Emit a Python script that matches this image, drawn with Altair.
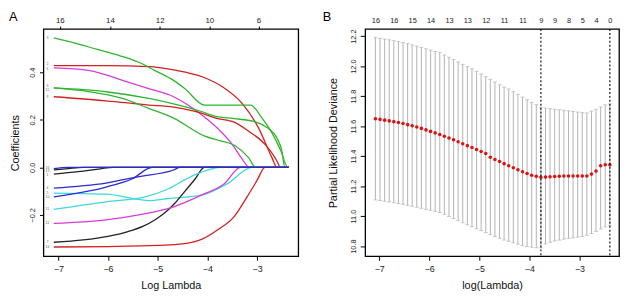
import altair as alt
import pandas as pd

# ---------------- Panel A: coefficient paths ----------------
VAR_IDS = [str(i) for i in range(1, 17)]
VAR_COLORS = ["#222222", "#d42020", "#2fb52f", "#2a2ad0", "#3cd8e0", "#d83cd8",
              "#222222", "#d42020", "#2fb52f", "#2a2ad0", "#3cd8e0", "#d83cd8",
              "#222222", "#d42020", "#2fb52f", "#2a2ad0"]
P1 = [(-7.09, -0.028), (-6.6, -0.018), (-6.15, -0.006), (-5.9, 0.0), (-2.36, 0.0)]
P2 = [(-7.09, 0.428), (-6.0, 0.428), (-5.18, 0.424), (-4.68, 0.410), (-4.09, 0.380), (-3.69, 0.338),
      (-3.30, 0.269), (-2.97, 0.166), (-2.70, 0.041), (-2.60, 0.0), (-2.36, 0.0)]
P3 = [(-7.09, 0.545), (-6.70, 0.525), (-6.23, 0.497), (-5.77, 0.470), (-5.38, 0.442), (-5.05, 0.407),
      (-4.68, 0.366), (-4.45, 0.331), (-4.06, 0.262), (-3.60, 0.262), (-3.13, 0.262), (-2.90, 0.207),
      (-2.70, 0.145), (-2.52, 0.069), (-2.38, 0.0), (-2.36, 0.0)]
P4 = [(-7.09, -0.087), (-6.04, -0.066), (-5.38, -0.039), (-4.68, -0.011), (-4.55, 0.0), (-2.36, 0.0)]
P5 = [(-7.09, -0.108), (-6.04, -0.113), (-5.38, -0.135), (-5.18, -0.140), (-4.78, -0.131),
      (-4.12, -0.117), (-3.60, -0.069), (-3.10, 0.0), (-2.36, 0.0)]
P6 = [(-7.09, 0.418), (-6.37, 0.407), (-5.71, 0.366), (-5.18, 0.331), (-4.68, 0.297), (-4.39, 0.262),
      (-3.99, 0.200), (-3.75, 0.155), (-3.50, 0.097), (-3.30, 0.035), (-3.15, 0.0), (-2.36, 0.0)]
P7 = [(-7.09, -0.315), (-6.5, -0.305), (-6.0, -0.290), (-5.6, -0.270), (-5.3, -0.248),
      (-5.05, -0.220), (-4.85, -0.190), (-4.65, -0.150), (-4.45, -0.100), (-4.25, -0.050),
      (-4.06, 0.0), (-2.36, 0.0)]
P8 = [(-7.09, 0.297), (-6.04, 0.280), (-5.18, 0.262), (-4.68, 0.253), (-4.12, 0.228), (-3.83, 0.207),
      (-3.46, 0.190), (-3.17, 0.152), (-2.84, 0.097), (-2.57, 0.014), (-2.54, 0.0), (-2.36, 0.0)]
P9 = [(-7.09, 0.334), (-6.04, 0.318), (-5.18, 0.290), (-4.68, 0.267), (-4.12, 0.235), (-3.83, 0.214),
      (-3.46, 0.205), (-3.07, 0.193), (-2.84, 0.173), (-2.60, 0.124), (-2.50, 0.069), (-2.44, 0.0),
      (-2.36, 0.0)]
P10 = [(-7.09, -0.124), (-6.04, -0.083), (-5.51, -0.048), (-5.11, 0.0), (-2.36, 0.0)]
P11 = [(-7.09, -0.177), (-6.04, -0.145), (-5.25, -0.124), (-4.78, -0.090), (-4.39, -0.045),
       (-4.0, -0.012), (-3.75, 0.0), (-2.36, 0.0)]
P12 = [(-7.09, -0.236), (-6.04, -0.221), (-5.38, -0.200), (-4.68, -0.166), (-4.12, -0.117),
       (-3.66, -0.069), (-3.33, 0.0), (-2.36, 0.0)]
P13 = [(-7.09, -0.011), (-6.8, -0.005), (-6.5, 0.0), (-2.36, 0.0)]
P14 = [(-7.09, -0.335), (-6.0, -0.333), (-5.0, -0.328), (-4.5, -0.322), (-4.12, -0.303),
       (-3.79, -0.262), (-3.46, -0.207), (-3.20, -0.124), (-3.0, -0.055), (-2.84, 0.0), (-2.36, 0.0)]
P15 = [(-7.09, 0.334), (-6.37, 0.318), (-5.71, 0.290), (-5.18, 0.248), (-4.68, 0.207), (-4.05, 0.131),
       (-3.75, 0.112), (-3.45, 0.092), (-3.17, 0.041), (-3.03, 0.0), (-2.36, 0.0)]
P16 = [(-7.09, -0.005), (-6.8, 0.0), (-2.36, 0.0)]
PATHS = [P1, P2, P3, P4, P5, P6, P7, P8, P9, P10, P11, P12, P13, P14, P15, P16]

# small variable-number labels at the left end of each path
VAR_LABEL_X = -7.22
VAR_LABEL_Y = [-0.031, 0.433, 0.545, -0.087, -0.106, 0.413, -0.315, 0.297,
               0.342, -0.124, -0.177, -0.236, -0.016, -0.335, 0.326, -0.001]

TOP_A_POS = [-6.97, -5.96, -4.96, -3.96, -2.97]
TOP_A_LAB = ["16", "14", "12", "10", "6"]

# ---------------- Panel B: cross-validation curve ----------------
LOG_LAMBDA = [-7.075, -6.983, -6.891, -6.800, -6.708, -6.616, -6.524, -6.432, -6.341, -6.249,
              -6.157, -6.065, -5.973, -5.882, -5.790, -5.698, -5.606, -5.514, -5.423, -5.331,
              -5.239, -5.147, -5.055, -4.964, -4.872, -4.780, -4.688, -4.596, -4.505, -4.413,
              -4.321, -4.229, -4.137, -4.046, -3.954, -3.862, -3.770, -3.678, -3.587, -3.495,
              -3.403, -3.311, -3.219, -3.128, -3.036, -2.944, -2.852, -2.760, -2.669, -2.577,
              -2.485, -2.393]
CV_MEAN = [11.649, 11.645, 11.640, 11.635, 11.630, 11.624, 11.617, 11.610, 11.602, 11.594,
           11.585, 11.575, 11.565, 11.555, 11.544, 11.533, 11.521, 11.509, 11.496, 11.483,
           11.470, 11.457, 11.444, 11.431, 11.418, 11.392, 11.378, 11.364, 11.350, 11.336,
           11.322, 11.309, 11.296, 11.284, 11.273, 11.265, 11.259, 11.260, 11.262, 11.264,
           11.266, 11.267, 11.267, 11.267, 11.267, 11.267, 11.268, 11.280, 11.300, 11.336,
           11.342, 11.342]
CV_UP = [12.190, 12.186, 12.181, 12.176, 12.170, 12.164, 12.157, 12.150, 12.142, 12.134,
         12.125, 12.116, 12.107, 12.098, 12.090, 12.075, 12.060, 12.044, 12.028, 12.012,
         11.997, 11.982, 11.966, 11.948, 11.930, 11.912, 11.894, 11.876, 11.860, 11.848,
         11.830, 11.812, 11.794, 11.776, 11.758, 11.744, 11.726, 11.720, 11.716, 11.713,
         11.710, 11.706, 11.702, 11.698, 11.694, 11.690, 11.688, 11.700, 11.712, 11.728,
         11.742, 11.748]
CV_LO = [11.108, 11.104, 11.099, 11.094, 11.089, 11.084, 11.078, 11.072, 11.066, 11.059,
         11.052, 11.045, 11.038, 11.031, 11.024, 11.012, 10.998, 10.984, 10.970, 10.956,
         10.942, 10.930, 10.916, 10.903, 10.890, 10.877, 10.864, 10.852, 10.840, 10.832,
         10.822, 10.813, 10.804, 10.797, 10.792, 10.789, 10.788, 10.815, 10.826, 10.834,
         10.840, 10.846, 10.851, 10.855, 10.860, 10.864, 10.872, 10.884, 10.898, 10.914,
         10.928, 10.936]
TOP_B_POS = [-7.075, -6.708, -6.341, -5.973, -5.606, -5.239, -4.872, -4.505, -4.137, -3.770,
             -3.495, -3.219, -2.944, -2.669, -2.393]
TOP_B_LAB = ["16", "16", "15", "14", "13", "13", "12", "11", "11", "9", "9", "8", "5", "4", "0"]
VLINES = [-3.770, -2.393]
PANEL_LABELS = ["A", "B"]

FONT = "Liberation Sans"

# ---------- build panel A ----------
rows = []
for vid, col, path in zip(VAR_IDS, VAR_COLORS, PATHS):
    for k, (x, y) in enumerate(path):
        rows.append({"var": vid, "col": col, "x": x, "y": y, "k": k})
dfA = pd.DataFrame(rows)
dfLab = pd.DataFrame({"x": [VAR_LABEL_X] * 16, "y": VAR_LABEL_Y, "t": VAR_IDS})

xA = alt.Scale(domain=[-7.30, -2.17], nice=False, zero=False)
yA = alt.Scale(domain=[-0.374, 0.582], nice=False, zero=False)

top_expr_A = "[%s][indexof([%s], datum.value)]" % (
    ",".join("'%s'" % s for s in TOP_A_LAB), ",".join(repr(v) for v in TOP_A_POS))

yAxisA = alt.Axis(title="Coefficients", values=[-0.2, 0.0, 0.2, 0.4],
                  format=".1f", labelAngle=270, labelAlign="center",
                  labelBaseline="bottom", tickSize=4, labelPadding=3,
                  titlePadding=8, labelFontSize=7.5)

linesA = alt.Chart(dfA).mark_line(strokeWidth=1.3, interpolate="monotone").encode(
    x=alt.X("x:Q", scale=xA, axis=alt.Axis(title="Log Lambda", values=[-7, -6, -5, -4, -3],
                                           format="d", tickSize=4, labelPadding=4, titlePadding=7)),
    y=alt.Y("y:Q", scale=yA, axis=yAxisA),
    color=alt.Color("col:N", scale=None),
    detail="var:N",
    order="k:Q",
)
topA = alt.Chart(pd.DataFrame({"p": TOP_A_POS})).mark_rule(opacity=0).encode(
    x=alt.X("p:Q", scale=xA, axis=alt.Axis(orient="top", title=None, values=TOP_A_POS,
                                           labelExpr=top_expr_A, tickSize=3, labelPadding=2,
                                           labelFontSize=8))
)
varLabA = alt.Chart(dfLab).mark_text(fontSize=3.5, color="#666666", font=FONT).encode(
    x=alt.X("x:Q", scale=xA, axis=None), y=alt.Y("y:Q", scale=yA, axis=yAxisA), text="t:N")
labelA = alt.Chart(pd.DataFrame({"t": [PANEL_LABELS[0]]})).mark_text(
    fontSize=13, align="left", baseline="top", font=FONT, color="black").encode(
    x=alt.value(-35), y=alt.value(-18), text="t:N")

panelA = alt.layer(linesA, varLabA, topA, labelA).resolve_axis(x="independent").properties(
    width=259, height=231)

# ---------- build panel B ----------
dfB = pd.DataFrame({"x": LOG_LAMBDA, "m": CV_MEAN, "u": CV_UP, "l": CV_LO})
xB = alt.Scale(domain=[-7.28, -2.21], nice=False, zero=False)
yB = alt.Scale(domain=[10.732, 12.248], nice=False, zero=False)
top_expr_B = "[%s][indexof([%s], datum.value)]" % (
    ",".join("'%s'" % s for s in TOP_B_LAB), ",".join(repr(v) for v in TOP_B_POS))

yAxisB = alt.Axis(title="Partial Likelihood Deviance",
                  values=[10.8, 11.0, 11.2, 11.4, 11.6, 11.8, 12.0, 12.2],
                  format=".1f", labelAngle=270, labelAlign="center",
                  labelBaseline="bottom", tickSize=5, labelPadding=3,
                  titlePadding=11, labelFontSize=7.5)

GREY = "#b3b3b3"
baseB = alt.Chart(dfB)
bars = baseB.mark_rule(color=GREY, strokeWidth=1).encode(
    x=alt.X("x:Q", scale=xB, axis=alt.Axis(title="log(Lambda)", values=[-7, -6, -5, -4, -3],
                                           format="d", tickSize=4, labelPadding=4, titlePadding=7)),
    y=alt.Y("l:Q", scale=yB, axis=yAxisB),
    y2="u:Q",
)
capU = baseB.mark_tick(color=GREY, orient="horizontal", size=4, thickness=1).encode(
    x=alt.X("x:Q", scale=xB, axis=None), y=alt.Y("u:Q", scale=yB, axis=yAxisB))
capL = baseB.mark_tick(color=GREY, orient="horizontal", size=4, thickness=1).encode(
    x=alt.X("x:Q", scale=xB, axis=None), y=alt.Y("l:Q", scale=yB, axis=yAxisB))
dots = baseB.mark_circle(color="#e01010", size=13, opacity=1).encode(
    x=alt.X("x:Q", scale=xB, axis=None), y=alt.Y("m:Q", scale=yB, axis=yAxisB))
vl = alt.Chart(pd.DataFrame({"v": VLINES})).mark_rule(color="black", strokeDash=[2, 2],
                                                       strokeWidth=1.1).encode(
    x=alt.X("v:Q", scale=xB, axis=None))
topB = alt.Chart(pd.DataFrame({"p": TOP_B_POS})).mark_rule(opacity=0).encode(
    x=alt.X("p:Q", scale=xB, axis=alt.Axis(orient="top", title=None, values=TOP_B_POS,
                                           labelExpr=top_expr_B, tickSize=0, labelPadding=5,
                                           labelFontSize=7.5))
)
labelB = alt.Chart(pd.DataFrame({"t": [PANEL_LABELS[1]]})).mark_text(
    fontSize=13, align="left", baseline="top", font=FONT, color="black").encode(
    x=alt.value(-43), y=alt.value(-18), text="t:N")

panelB = alt.layer(bars, capU, capL, dots, vl, topB, labelB).resolve_axis(x="independent").properties(
    width=258, height=231)

chart = alt.hconcat(panelA, panelB, spacing=23).properties(padding=0).configure_view(
    stroke="black", strokeWidth=1.3
).configure_axis(
    domain=False, grid=False, tickColor="black", labelColor="#222222", titleColor="#111111",
    labelFont=FONT, titleFont=FONT, labelFontSize=9, titleFontSize=11, titleFontWeight="normal"
)

chart.save("out.html", embed_options={"renderer": "svg", "actions": False})
